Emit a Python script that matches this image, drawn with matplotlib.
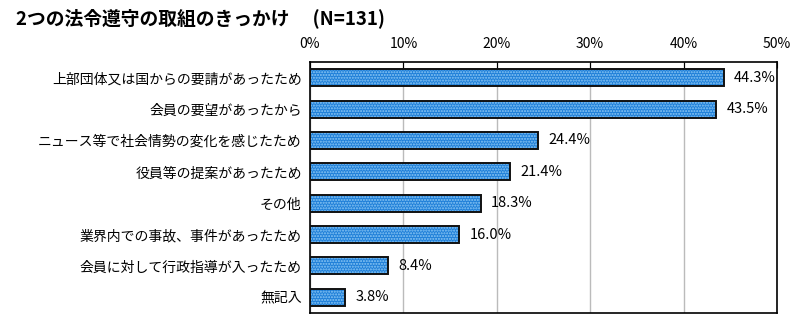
import matplotlib.pyplot as plt
import numpy as np

plt.rcParams['font.family'] = ['Noto Sans CJK JP', 'DejaVu Sans']

categories = ['上部団体又は国からの要請があったため', '会員の要望があったから',
              'ニュース等で社会情勢の変化を感じたため', '役員等の提案があったため',
              'その他', '業界内での事故、事件があったため',
              '会員に対して行政指導が入ったため', '無記入']
values = [44.3, 43.5, 24.4, 21.4, 18.3, 16.0, 8.4, 3.8]
ticks = [0, 10, 20, 30, 40, 50]

fig = plt.figure(figsize=(8, 3.23), dpi=100)
ax = fig.add_axes([0.3875, 0.031, 0.5837, 0.777])

y = np.arange(len(categories))
ax.barh(y, values, height=0.54, color='#1f7fd8', edgecolor='#8cc8f5',
        hatch='......', linewidth=0, zorder=3)
ax.barh(y, values, height=0.54, fill=False, edgecolor='#111111', linewidth=1.4, zorder=4)

for yi, v in zip(y, values):
    ax.text(v + 1.1, yi, f'{v:.1f}%', va='center', ha='left', fontsize=10.5)

ax.set_xlim(0, 50)
ax.set_ylim(len(categories) - 0.5, -0.5)
ax.set_xticks(ticks)
ax.set_xticklabels([f'{t}%' for t in ticks], fontsize=10)
ax.xaxis.tick_top()
ax.tick_params(axis='x', length=4, direction='in', pad=8)
ax.set_yticks(y)
ax.set_yticklabels(categories, fontsize=10)
ax.tick_params(axis='y', length=4, direction='in', pad=6)
ax.grid(axis='x', color='#bbbbbb', linewidth=1, zorder=0)
for s in ax.spines.values():
    s.set_linewidth(1.2)

fig.text(0.02, 0.945, '2つの法令遵守の取組のきっかけ　 (N=131)', fontsize=13.5,
         fontweight='bold', va='center', ha='left')

fig.savefig('out.png', dpi=100)
